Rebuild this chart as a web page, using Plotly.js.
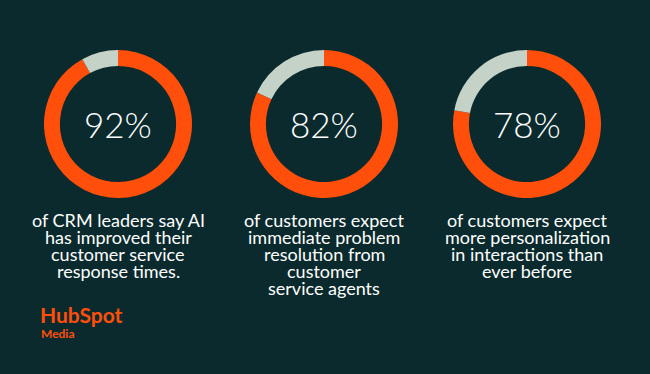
<!DOCTYPE html>
<html>
<head>
<meta charset="utf-8">
<script src="https://cdn.plot.ly/plotly-3.0.1.min.js"></script>
<style>
html,body{margin:0;padding:0;background:#0b2a2d;}
#chart{width:650px;height:374px;}
</style>
</head>
<body>
<div id="chart"></div>
<script>
// Data
var percentages = [92, 82, 78];
var percentLabels = ["92%", "82%", "78%"];
var captionLines = [
  ["of CRM leaders say AI", "has improved their", "customer service", "response times."],
  ["of customers expect", "immediate problem", "resolution from", "customer", "service agents"],
  ["of customers expect", "more personalization", "in interactions than", "ever before"]
];
var brandName = "HubSpot";
var brandSub = "Media";

// Layout helpers (pixels)
var W = 650, H = 374;
var centersX = [118, 324, 527];
var centerY = 124;
var radius = 74;
var ORANGE = "#ff4f0a", GREY = "#c4d2c7", BG = "#0b2a2d";

var traces = [];
var annotations = [];
percentages.forEach(function(p, i) {
  var cx = centersX[i];
  traces.push({
    type: "pie",
    values: [p, 100 - p],
    labels: ["share", "rest"],
    sort: false,
    direction: "clockwise",
    rotation: 0,
    hole: 0.785,
    textinfo: "none",
    hoverinfo: "skip",
    showlegend: false,
    marker: {colors: [ORANGE, GREY], line: {width: 0}},
    domain: {
      x: [(cx - radius) / W, (cx + radius) / W],
      y: [(H - centerY - radius) / H, (H - centerY + radius) / H]
    }
  });
  annotations.push({
    xref: "paper", yref: "paper",
    x: cx / W, y: (H - centerY) / H,
    xanchor: "center", yanchor: "middle",
    text: percentLabels[i], showarrow: false,
    font: {family: "Lato, sans-serif", size: 35, color: "#ffffff", weight: 300}
  });
  captionLines[i].forEach(function(line, j) {
    annotations.push({
      xref: "paper", yref: "paper",
      x: cx / W, y: (H - (220 + j * 17)) / H,
      xanchor: "center", yanchor: "middle",
      text: line, showarrow: false,
      font: {family: "Lato, sans-serif", size: 18, color: "#ffffff"}
    });
  });
});
annotations.push({
  xref: "paper", yref: "paper", x: 38 / W, y: (H - 314) / H,
  xanchor: "left", yanchor: "middle", text: "<b>" + brandName + "</b>", showarrow: false,
  font: {family: "Lato, sans-serif", size: 21, color: ORANGE}
});
annotations.push({
  xref: "paper", yref: "paper", x: 39 / W, y: (H - 333) / H,
  xanchor: "left", yanchor: "middle", text: "<b>" + brandSub + "</b>", showarrow: false,
  font: {family: "Lato, sans-serif", size: 12, color: ORANGE}
});

var layout = {
  width: W, height: H,
  margin: {l: 0, r: 0, t: 0, b: 0},
  paper_bgcolor: BG, plot_bgcolor: BG,
  showlegend: false,
  annotations: annotations
};
Plotly.newPlot("chart", traces, layout, {displayModeBar: false, staticPlot: true});
</script>
</body>
</html>
